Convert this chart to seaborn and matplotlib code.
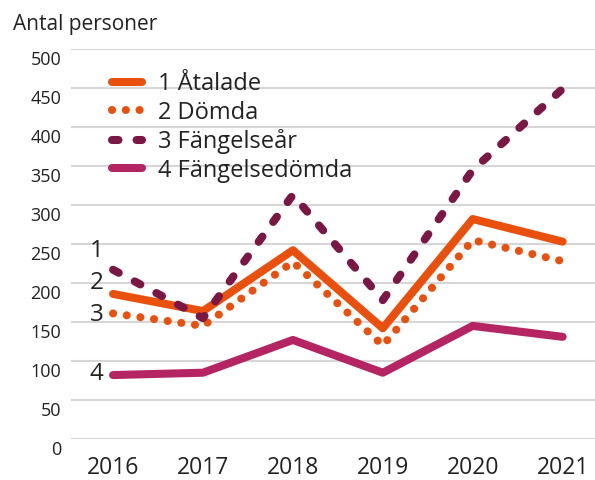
import pandas as pd
import seaborn as sns
import matplotlib.pyplot as plt
from matplotlib.transforms import ScaledTranslation

years = [2016, 2017, 2018, 2019, 2020, 2021]
atalade = [186, 164, 242, 142, 282, 253]
domda = [161, 145, 227, 120, 255, 228]
fangelsear = [217, 155, 313, 178, 345, 449]
fangelsedomda = [82, 85, 127, 85, 145, 131]
names = ["1 Åtalade", "2 Dömda", "3 Fängelseår", "4 Fängelsedömda"]
yticks = [0, 50, 100, 150, 200, 250, 300, 350, 400, 450, 500]

sns.set_theme(style="white")
plt.rcParams['font.family'] = ['Open Sans', 'DejaVu Sans']
txt = "#222222"

fig = plt.figure(figsize=(5.95, 4.8), dpi=100)
ax = fig.add_axes([0.119, 0.0854, 0.881, 0.8125])

series = [atalade, domda, fangelsear, fangelsedomda]
colors = ["#E9500E", "#E9500E", "#7A1745", "#B52563"]
styles = ["-", (0, (0.01, 1.7)), (0, (0.8, 2.25)), "-"]

for name, vals, col, ls in zip(names, series, colors, styles):
    df = pd.DataFrame({"year": years, "value": vals})
    sns.lineplot(data=df, x="year", y="value", ax=ax, color=col, linewidth=5.8,
                 linestyle=ls, label=name, solid_capstyle="round",
                 dash_capstyle="round", clip_on=False)

ax.set_xlim(2015.53, 2021.36)
ax.set_ylim(0, 500)
ax.set_yticks(yticks)
ax.set_xticks(years)
ax.set_yticklabels([str(v) for v in yticks], fontsize=13, color=txt)
ax.set_xticklabels([str(v) for v in years], fontsize=16.5, color=txt)
ax.tick_params(axis="y", length=0, pad=7)
ax.tick_params(axis="x", length=0, pad=12)
# y labels sit a little below their gridlines
shift = ScaledTranslation(0, -0.09, fig.dpi_scale_trans)
for lab in ax.get_yticklabels():
    lab.set_transform(lab.get_transform() + shift)
ax.grid(axis="y", color="#d6d6d6", linewidth=1.5)
ax.grid(axis="x", visible=False)
for s in ax.spines.values():
    s.set_visible(False)
ax.set_xlabel("")
ax.set_ylabel("")

# number labels at the left end
for lab, yv in zip(["1", "2", "3", "4"], [241, 200, 159, 83]):
    ax.text(2015.82, yv, lab, fontsize=17.5, color=txt, ha="center", va="center")

leg = ax.legend(loc="upper left", bbox_to_anchor=(0.06, 0.965), frameon=False,
                fontsize=17, handlelength=1.3, labelspacing=0.19, handletextpad=0.65,
                labelcolor=txt, borderaxespad=0)

fig.text(0.022, 0.948, "Antal personer", fontsize=15, color=txt, va="center")

fig.savefig("out.png", dpi=100)
